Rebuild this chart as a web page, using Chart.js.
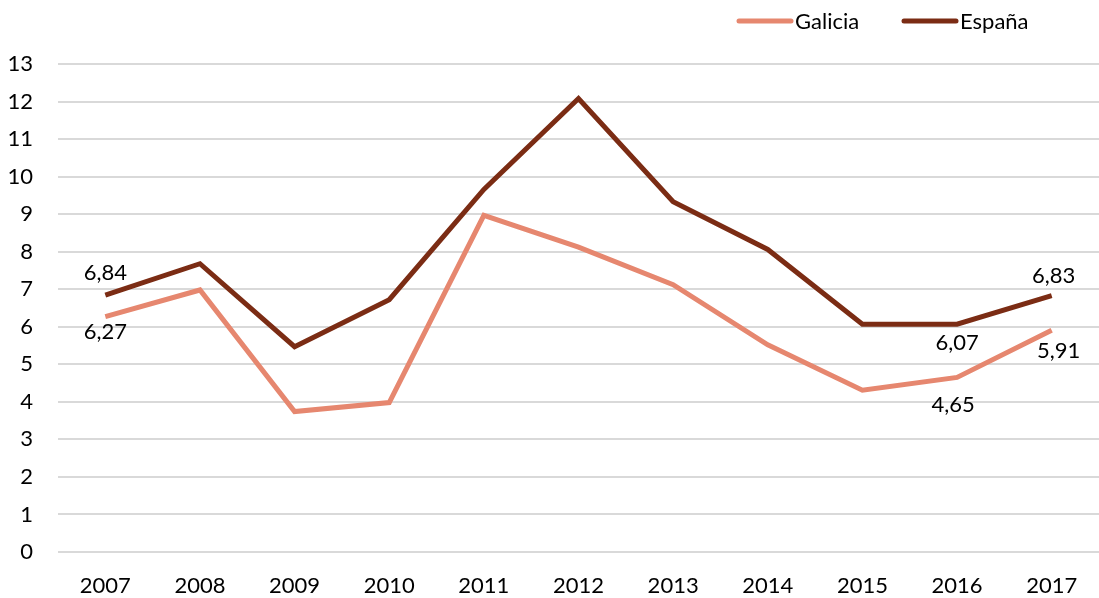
<!DOCTYPE html>
<html lang="es">
<head>
    <meta charset="UTF-8">
    <title>Galicia vs España</title>
    <script src="https://cdn.jsdelivr.net/npm/chart.js"></script>
    <style>
        html, body { margin: 0; padding: 0; background: #fff; }
        #wrap { width: 1099px; height: 598px; position: relative; }
    </style>
</head>
<body>
<div id="wrap"><canvas id="chart"></canvas></div>
<script>
    // data
    const years = ['2007', '2008', '2009', '2010', '2011', '2012', '2013', '2014', '2015', '2016', '2017'];
    const galicia = [6.27, 6.98, 3.74, 3.98, 8.97, 8.12, 7.12, 5.52, 4.31, 4.65, 5.91];
    const espana = [6.84, 7.68, 5.47, 6.72, 9.66, 12.08, 9.33, 8.06, 6.07, 6.07, 6.83];
    const yTicks = [0, 1, 2, 3, 4, 5, 6, 7, 8, 9, 10, 11, 12, 13];

    // which points get a value label: [datasetIndex, pointIndex, dy]
    const shownLabels = [
        [1, 0, -22], [0, 0, 15],
        [1, 9, 19], [0, 9, 27],
        [1, 10, -20], [0, 10, 21]
    ];

    const FONT = 'Lato, "Open Sans", sans-serif';
    const FS = 22;

    const valueLabels = {
        id: 'valueLabels',
        afterDatasetsDraw(chart) {
            const ctx = chart.ctx;
            ctx.save();
            ctx.font = FS + 'px ' + FONT;
            ctx.fillStyle = '#000';
            ctx.textAlign = 'center';
            ctx.textBaseline = 'middle';
            shownLabels.forEach(([d, i, dy]) => {
                const pt = chart.getDatasetMeta(d).data[i];
                const v = chart.data.datasets[d].data[i];
                let dx = 0;
                if (d === 0 && i === 9) dx = -4;
                if (i === 10) dx = d === 0 ? 7 : 2;
                ctx.fillText(v.toFixed(2).replace('.', ','), pt.x + dx, pt.y + dy);
            });
            ctx.restore();
        }
    };

    const legendTop = {
        id: 'legendTop',
        afterDraw(chart) {
            const ctx = chart.ctx;
            const items = [[737, 0], [902, 1]];
            ctx.save();
            ctx.font = FS + 'px ' + FONT;
            ctx.textBaseline = 'middle';
            ctx.fillStyle = '#000';
            items.forEach(([x, d]) => {
                const ds = chart.data.datasets[d];
                ctx.strokeStyle = ds.borderColor;
                ctx.lineWidth = 5;
                ctx.lineCap = 'round';
                ctx.beginPath();
                ctx.moveTo(x + 2, 21);
                ctx.lineTo(x + 54, 21);
                ctx.stroke();
                ctx.fillText(ds.label, x + 58, 22);
            });
            ctx.restore();
        }
    };

    new Chart(document.getElementById('chart'), {
        type: 'line',
        data: {
            labels: years,
            datasets: [
                { label: 'Galicia', data: galicia, borderColor: '#E6876F', borderWidth: 5, pointRadius: 0, tension: 0 },
                { label: 'España', data: espana, borderColor: '#7B2C14', borderWidth: 5, pointRadius: 0, tension: 0 }
            ]
        },
        options: {
            responsive: true,
            maintainAspectRatio: false,
            animation: false,
            layout: { padding: { top: 64, left: 0, right: -6, bottom: 0 } },
            plugins: {
                legend: { display: false },
                tooltip: { enabled: false }
            },
            scales: {
                x: {
                    offset: true,
                    grid: { display: false },
                    border: { display: false },
                    ticks: { color: '#000', font: { family: FONT, size: FS }, padding: 13, maxRotation: 0 },
                    afterFit(s) { s.height = 46; }
                },
                y: {
                    min: 0,
                    max: 13,
                    afterBuildTicks(s) { s.ticks = yTicks.map(v => ({ value: v })); },
                    grid: { color: '#d9d9d9', lineWidth: 2, drawTicks: false },
                    border: { display: false },
                    ticks: { color: '#000', font: { family: FONT, size: FS }, padding: 25 },
                    afterFit(s) { s.width = 58; }
                }
            }
        },
        plugins: [valueLabels, legendTop]
    });
</script>
</body>
</html>
